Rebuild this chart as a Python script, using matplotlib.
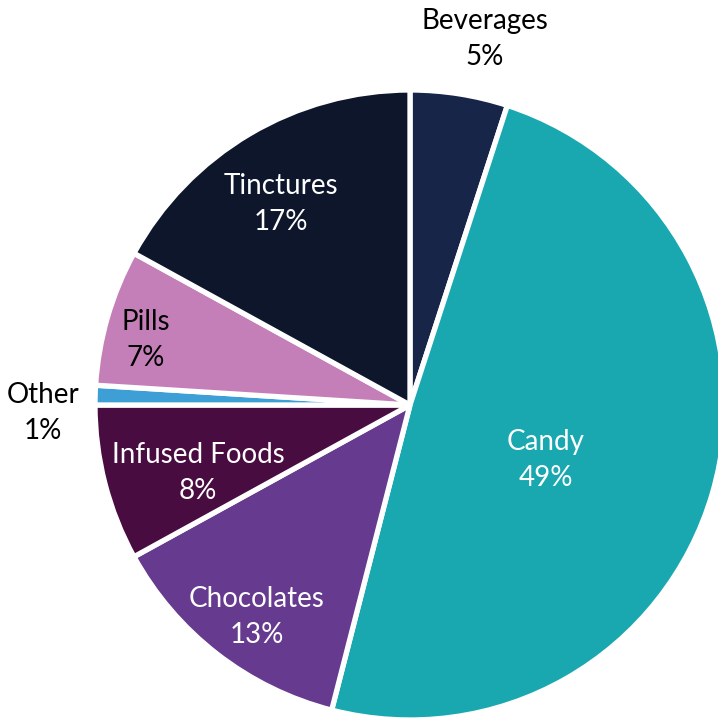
import matplotlib.pyplot as plt

# product category shares (percent)
categories = ["Beverages", "Candy", "Chocolates", "Infused Foods", "Other", "Pills", "Tinctures"]
shares = [5, 49, 13, 8, 1, 7, 17]
colors = ["#172548", "#1AA8B0", "#663A8E", "#490C40", "#3D9FD6", "#C57FB8", "#0E162C"]
text_colors = ["black", "white", "white", "white", "black", "black", "white"]

# label centres in pixel coords of the figure (x from left, y from top)
label_px = [(485, 39), (546, 460), (257, 617), (198, 473), (43, 413), (146, 340), (281, 204)]

W, H = 718, 719
cx, cy, R = 410, 405, 315  # pie centre and radius in pixels

plt.rcParams['font.family'] = ['Lato', 'DejaVu Sans']

fig = plt.figure(figsize=(W / 100, H / 100), dpi=100)
ax = fig.add_axes([0, 0, 1, 1])

ax.pie(shares, colors=colors, startangle=90, counterclock=False,
       radius=1, wedgeprops=dict(edgecolor="white", linewidth=3.8, joinstyle="bevel"))

ax.set_aspect('auto')
ax.set_xlim(-cx / R, (W - cx) / R)
ax.set_ylim(-(H - cy) / R, cy / R)
ax.axis('off')

for name, val, (px, py), tc in zip(categories, shares, label_px, text_colors):
    ax.text((px - cx) / R, (cy - py) / R, f"{name}\n{val}%", ha="center", va="center",
            fontsize=20, color=tc, linespacing=1.5)

fig.savefig("out.png", dpi=100)
